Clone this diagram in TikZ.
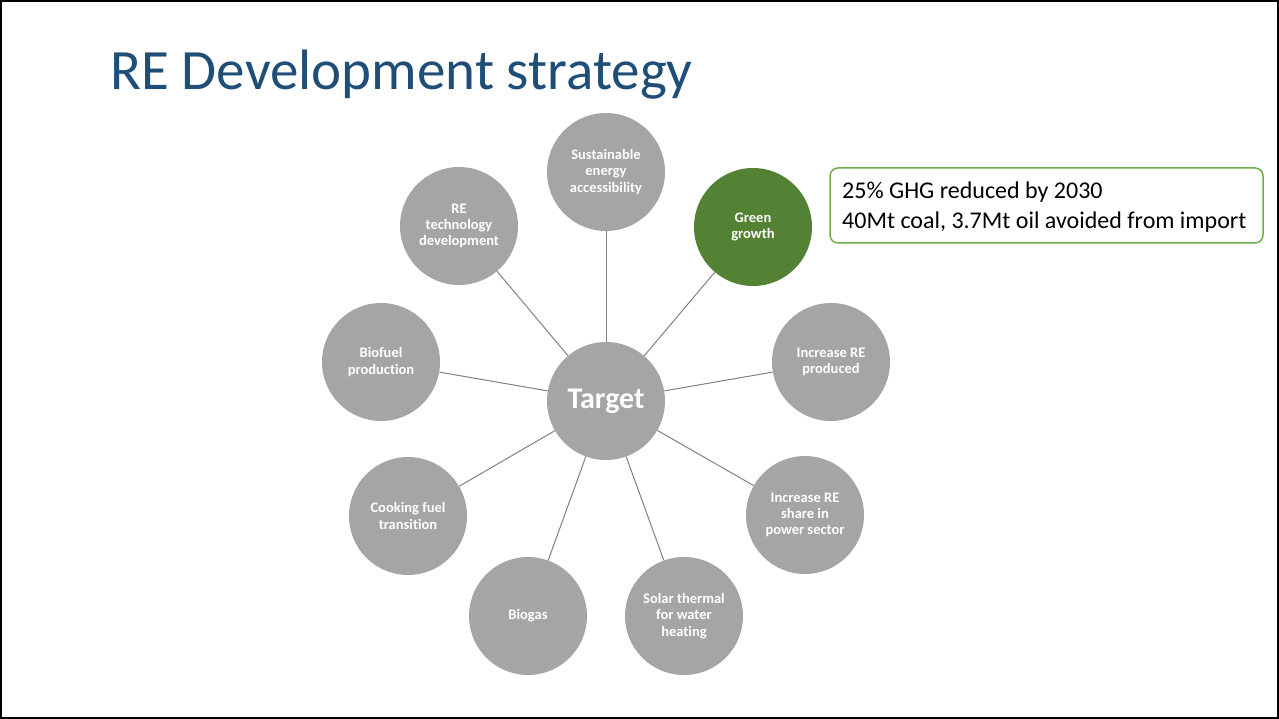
\documentclass[tikz,border=0pt]{standalone}
\usepackage{fontspec}
\setmainfont[Ligatures=NoCommon]{Carlito}
\definecolor{titleblue}{HTML}{1F4E79}
\definecolor{cgray}{HTML}{A5A5A5}
\definecolor{cgreen}{HTML}{548235}
\definecolor{lgreen}{HTML}{70AD47}
\definecolor{linegray}{HTML}{808080}
\begin{document}
\begin{tikzpicture}[x=1pt,y=-1pt,
  bubble/.style={circle,fill=cgray,minimum size=118pt,inner sep=0pt,text=white,
    font=\fontsize{14.5}{16.2}\selectfont\bfseries,align=center},
  spoke/.style={draw=linegray,line width=1pt}]
\useasboundingbox (0,0) rectangle (1279,719);
\draw[black,line width=2pt] (1,1) rectangle (1278,717.5);
\node[anchor=west,text=titleblue,font=\fontsize{57}{60}\selectfont,inner sep=0pt] (title) at (110,75) {RE Development strategy};
\node[bubble,font=\fontsize{30}{32}\selectfont\bfseries] (t) at (606,401) {Target};
\node[bubble] (n1) at (606,172) {Sustainable\\energy\\accessibility};
\node[bubble,fill=cgreen] (n2) at (753,227) {Green\\growth};
\node[bubble] (n3) at (831,362) {Increase RE\\produced};
\node[bubble] (n4) at (805,515) {Increase RE\\share in\\power sector};
\node[bubble] (n5) at (684,616) {Solar thermal\\for water\\heating};
\node[bubble] (n6) at (528,616) {Biogas};
\node[bubble] (n7) at (408,516) {Cooking fuel\\transition};
\node[bubble] (n8) at (381,362) {Biofuel\\production};
\node[bubble] (n9) at (459,226) {RE\\technology\\development};
\foreach \n in {n1,n2,n3,n4,n5,n6,n7,n8,n9} \draw[spoke] (t) -- (\n);
\node[draw=lgreen,line width=1.5pt,rounded corners=8pt,minimum width=433pt,minimum height=75pt,inner sep=0pt] (box) at (1046.5,205.5) {};
\node[anchor=west,align=left,font=\fontsize{24}{30}\selectfont,inner sep=0pt] (boxtext) at (842,207)
  {25\% GHG reduced by 2030\\40Mt coal, 3.7Mt oil avoided from import};
\end{tikzpicture}
\end{document}
